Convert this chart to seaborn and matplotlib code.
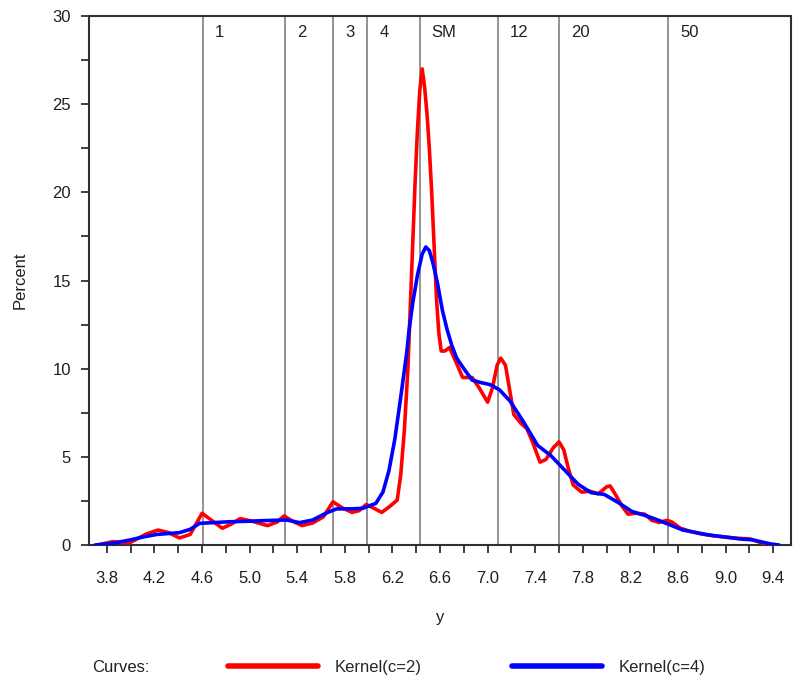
import numpy as np
import pandas as pd
import matplotlib
matplotlib.use("Agg")
import matplotlib.pyplot as plt
import seaborn as sns

# curve values (x = y-scale value, percent)
red_x = [3.72, 3.85, 3.99, 4.13, 4.23, 4.32, 4.41, 4.5, 4.6, 4.68, 4.77, 4.85, 4.92,
         5.02, 5.15, 5.23, 5.29, 5.36, 5.44, 5.53, 5.62, 5.7, 5.78, 5.86, 5.92, 5.98,
         6.04, 6.11, 6.18, 6.24, 6.27, 6.3, 6.33, 6.35, 6.37, 6.39, 6.41, 6.43, 6.45,
         6.47, 6.49, 6.51, 6.53, 6.55, 6.57, 6.59, 6.61, 6.64, 6.68, 6.72, 6.79, 6.87,
         6.93, 7.0, 7.04, 7.08, 7.11, 7.15, 7.18, 7.22, 7.28, 7.33, 7.38, 7.44, 7.49,
         7.55, 7.6, 7.64, 7.68, 7.72, 7.79, 7.86, 7.93, 8.0, 8.03, 8.08, 8.13, 8.18,
         8.25, 8.32, 8.38, 8.44, 8.51, 8.55, 8.62, 8.7, 8.8, 8.9, 9.0, 9.1, 9.2, 9.27,
         9.32, 9.38, 9.43]
red_y = [0.0, 0.19, 0.12, 0.62, 0.85, 0.7, 0.4, 0.6, 1.8, 1.4, 0.95, 1.2, 1.5,
         1.35, 1.1, 1.3, 1.65, 1.35, 1.1, 1.25, 1.6, 2.45, 2.1, 1.85, 1.95, 2.3,
         2.1, 1.85, 2.2, 2.55, 4.0, 6.5, 10.0, 13.5, 17.0, 20.5, 23.5, 25.8, 27.0,
         26.0, 24.5, 22.5, 20.0, 17.0, 14.0, 12.0, 11.0, 11.0, 11.2, 10.6, 9.5, 9.5,
         8.9, 8.1, 8.9, 10.2, 10.6, 10.2, 9.0, 7.4, 6.9, 6.6, 5.8, 4.7, 4.85,
         5.5, 5.85, 5.4, 4.3, 3.4, 3.0, 3.05, 2.9, 3.3, 3.35, 2.8, 2.2, 1.75,
         1.8, 1.75, 1.4, 1.28, 1.4, 1.3, 0.95, 0.78, 0.62, 0.52, 0.45, 0.38, 0.35, 0.2,
         0.08, 0.0, 0.0]

blue_x = [3.7, 3.85, 3.99, 4.1, 4.22, 4.41, 4.5, 4.58, 4.7, 4.83, 5.0, 5.11, 5.31,
          5.42, 5.53, 5.64, 5.73, 5.85, 5.95, 6.06, 6.12, 6.17, 6.22, 6.27, 6.32, 6.34,
          6.37, 6.41, 6.45, 6.48, 6.51, 6.54, 6.58, 6.62, 6.66, 6.7, 6.74, 6.8, 6.87,
          6.95, 7.02, 7.1, 7.19, 7.3, 7.42, 7.53, 7.64, 7.76, 7.87, 7.98, 8.1, 8.21,
          8.35, 8.46, 8.64, 8.86, 9.0, 9.14, 9.22, 9.3, 9.38, 9.45]
blue_y = [0.0, 0.1, 0.28, 0.45, 0.6, 0.7, 0.89, 1.23, 1.27, 1.32, 1.35, 1.38, 1.42,
          1.27, 1.42, 1.8, 2.05, 2.05, 2.08, 2.36, 3.0, 4.2, 6.0, 8.4, 10.9, 12.2,
          13.7, 15.3, 16.5, 16.9, 16.7, 16.0, 14.8, 13.3, 12.2, 11.3, 10.6, 10.0, 9.35,
          9.2, 9.1, 8.8, 8.15, 7.0, 5.65, 5.08, 4.3, 3.45, 2.97, 2.87, 2.4, 1.91,
          1.62, 1.34, 0.85, 0.57, 0.45, 0.33, 0.3, 0.18, 0.06, 0.0]

# vertical reference lines and their labels
ref_x = [4.61, 5.30, 5.70, 5.99, 6.43, 7.09, 7.60, 8.52]
ref_labels = ["1", "2", "3", "4", "SM", "12", "20", "50"]

x_ticks = [3.8, 4.2, 4.6, 5.0, 5.4, 5.8, 6.2, 6.6, 7.0, 7.4, 7.8, 8.2, 8.6, 9.0, 9.4]
y_ticks = [0, 5, 10, 15, 20, 25, 30]

curve_names = ["Kernel(c=2)", "Kernel(c=4)"]

df = pd.concat([
    pd.DataFrame({"y": red_x, "Percent": red_y, "curve": curve_names[0]}),
    pd.DataFrame({"y": blue_x, "Percent": blue_y, "curve": curve_names[1]}),
])

sns.set_style("ticks")
plt.rcParams["font.family"] = ["Liberation Sans", "DejaVu Sans"]

fig = plt.figure(figsize=(7.95, 6.84), dpi=100)
ax = fig.add_axes([0.112, 0.2032, 0.883, 0.7734])

for xv, lab in zip(ref_x, ref_labels):
    ax.axvline(xv, color="#808080", lw=1.2, zorder=1)
    ax.text(xv + 0.1, 29.05, lab, fontsize=12, color="#202020", va="center", ha="left")

sns.lineplot(data=df, x="y", y="Percent", hue="curve", hue_order=curve_names,
             palette={curve_names[0]: "#ff0000", curve_names[1]: "#0000ff"},
             estimator=None, sort=False, lw=2.6, ax=ax, legend=False, zorder=3)

ax.set_xlim(3.65, 9.55)
ax.set_ylim(0, 30)
ax.set_xticks(x_ticks)
ax.set_xticklabels([f"{v:.1f}" for v in x_ticks])
ax.set_xticks(np.arange(4.0, 9.5, 0.4), minor=True)
ax.set_yticks(y_ticks)
ax.set_yticks([2.5, 7.5, 12.5, 17.5, 22.5, 27.5], minor=True)
ax.tick_params(which="both", direction="out", length=6, width=1.3, color="#303030",
               labelsize=12, labelcolor="#202020", pad=13)
ax.tick_params(axis="y", pad=7)
for s in ax.spines.values():
    s.set_visible(True)
    s.set_color("#303030")
    s.set_linewidth(1.5)

ax.set_xlabel("y", fontsize=12, color="#202020", labelpad=17)
ax.set_ylabel("Percent", fontsize=12, color="#202020", labelpad=18)

# legend strip at the bottom
handles = [plt.Line2D([], [], color="#ff0000", lw=4), plt.Line2D([], [], color="#0000ff", lw=4)]
fig.legend(handles, curve_names, loc="center left", bbox_to_anchor=(0.287, 0.024),
           ncol=2, frameon=False, fontsize=12, handlelength=5.4, handletextpad=1.0,
           columnspacing=5.4, borderpad=0, borderaxespad=0)
fig.text(0.116, 0.024, "Curves:", fontsize=12, color="#202020", va="center", ha="left")

fig.savefig("out.png", dpi=100)
